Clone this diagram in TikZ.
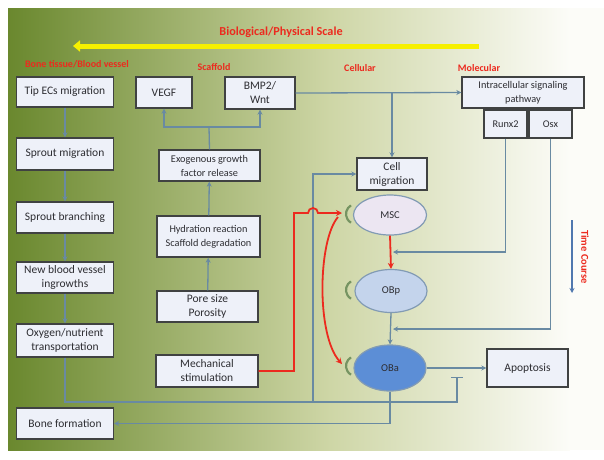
\documentclass[tikz,border=0pt]{standalone}
\usepackage{fontspec}
\setmainfont{Carlito}
\usetikzlibrary{arrows.meta,shapes.geometric}
\definecolor{bgA}{RGB}{106,136,46}
\definecolor{bgB}{RGB}{206,214,166}
\definecolor{bgC}{RGB}{252,252,248}
\definecolor{boxfill}{RGB}{238,241,249}
\definecolor{boxline}{RGB}{64,66,66}
\definecolor{txt}{RGB}{45,45,50}
\definecolor{lnk}{RGB}{105,138,162}
\definecolor{redl}{RGB}{236,42,30}
\definecolor{yel}{RGB}{246,240,0}
\definecolor{selfc}{RGB}{118,148,98}
\definecolor{mscfill}{RGB}{236,230,242}
\definecolor{obpfill}{RGB}{196,212,236}
\definecolor{obafill}{RGB}{92,142,214}
\definecolor{elline}{RGB}{130,155,180}
\definecolor{tcblue}{RGB}{80,120,175}
\begin{document}
\begin{tikzpicture}[x=1pt,y=-1pt,
  box/.style={draw=boxline, fill=boxfill, line width=1.4pt, text=txt, align=center, inner sep=1pt},
  bigtxt/.style={font=\fontsize{11.5}{14}\selectfont},
  smtxt/.style={font=\fontsize{10.3}{14}\selectfont},
  conn/.style={draw=lnk, line width=1.3pt},
  arr/.style={conn, -{Stealth[length=5pt,width=5pt]}},
  redarr/.style={draw=redl, line width=1.8pt, -{Stealth[length=6pt,width=6pt]}},
  cat/.style={text=redl, font=\bfseries\fontsize{10}{11}\selectfont},
  cell/.style={ellipse, draw=elline, line width=1.2pt, text=txt, font=\fontsize{10.5}{12}\selectfont, inner sep=0pt},
  selfloop/.style={draw=selfc, line width=2.2pt}
]
\useasboundingbox (0,0) rectangle (604,459);
% background
\shade[left color=bgA, right color=bgB] (8,8) rectangle (330,450);
\shade[left color=bgB, right color=bgC] (330,8) rectangle (570,450);
\fill[bgC] (570,8) rectangle (604,450);

% title and scale arrow
\node[text=redl, font=\bfseries\fontsize{12.2}{14}\selectfont] (title) at (281,32) {Biological/Physical Scale};
\coordinate (ya) at (479,46);
\coordinate (yb) at (73,46);
\draw[draw=yel, line width=5pt, -{Triangle[length=7pt,width=11pt]}] (ya) -- (yb);

% category labels
\node[cat] (c1) at (77,64) {Bone tissue/Blood vessel};
\node[cat] (c2) at (214,67) {Scaffold};
\node[cat] (c3) at (360,68) {Cellular};
\node[cat] (c4) at (479,68) {Molecular};

% left column
\node[box, bigtxt, minimum width=97pt, minimum height=30pt] (tip) at (65,92) {Tip ECs migration};
\node[box, bigtxt, minimum width=97pt, minimum height=32pt] (sprmig) at (65,154) {Sprout migration};
\node[box, bigtxt, minimum width=97pt, minimum height=31pt] (sprbr) at (65,217.5) {Sprout branching};
\node[box, bigtxt, minimum width=97pt, minimum height=31pt] (newbv) at (65,277.5) {New blood vessel\\ingrowths};
\node[box, bigtxt, minimum width=97pt, minimum height=33pt] (oxy) at (65,340.5) {Oxygen/nutrient\\transportation};
\node[box, bigtxt, minimum width=97pt, minimum height=31pt] (bone) at (65,423.5) {Bone formation};

% scaffold column
\node[box, bigtxt, minimum width=56pt, minimum height=31pt] (vegf) at (164,92.5) {VEGF};
\node[box, bigtxt, minimum width=70pt, minimum height=32pt] (bmp) at (260,93) {BMP2/\\Wnt};
\node[box, smtxt, minimum width=101pt, minimum height=31pt] (exo) at (209.5,165.5) {Exogenous growth\\factor release};
\node[box, smtxt, minimum width=103pt, minimum height=41pt] (hyd) at (208.5,236.5) {Hydration reaction\\Scaffold degradation};
\node[box, bigtxt, minimum width=101pt, minimum height=31pt] (pore) at (207.5,306.5) {Pore size\\Porosity};
\node[box, bigtxt, minimum width=102pt, minimum height=32pt] (mech) at (207,371) {Mechanical\\stimulation};

% cellular
\node[box, bigtxt, minimum width=70pt, minimum height=32pt] (cellmig) at (392,174) {Cell\\migration};
\node[cell, fill=mscfill, minimum width=73pt, minimum height=40pt] (msc) at (390,215) {MSC};
\node[cell, fill=obpfill, minimum width=72pt, minimum height=43pt] (obp) at (391,291) {OBp};
\node[cell, fill=obafill, minimum width=72pt, minimum height=46pt] (oba) at (390,368) {OBa};
\node[box, bigtxt, minimum width=81pt, minimum height=38pt] (apop) at (527.5,368) {Apoptosis};

% molecular
\node[box, smtxt, minimum width=122pt, minimum height=31pt] (intra) at (523,92.5) {Intracellular signaling\\pathway};
\node[box, smtxt, minimum width=43pt, minimum height=28pt] (runx) at (505.5,124) {Runx2};
\node[box, smtxt, minimum width=43pt, minimum height=28pt] (osx) at (550.5,124) {Osx};

% self-renewal loops
\draw[selfloop] (356,214) ++(120:10pt) arc[start angle=120,end angle=240,radius=10pt];
\draw[selfloop] (356,290) ++(120:10pt) arc[start angle=120,end angle=240,radius=10pt];
\draw[selfloop] (356,366) ++(120:10pt) arc[start angle=120,end angle=240,radius=10pt];

% left column connectors
\draw[arr] (tip) -- (sprmig);
\draw[arr] (sprmig) -- (sprbr);
\draw[arr] (sprbr) -- (newbv);
\draw[arr] (newbv) -- (oxy);

% oxygen line with inhibition
\coordinate (j1) at (313,402);
\coordinate (inh) at (457,377);
\draw[conn, -{Bar[width=12pt,line width=1.3pt]}] (oxy.south) |- (j1) -| (inh);
\draw[arr] (j1) |- (cellmig.west);

% scaffold connectors
\draw[arr] (pore) -- (hyd);
\draw[arr] (hyd) -- (exo);
\coordinate (fork) at (209,127);
\draw[conn] (exo.north) -- (fork);
\draw[arr] (fork) -| (vegf.south);
\draw[arr] (fork) -| (bmp.south);

% BMP2 to signaling and cell migration
\draw[arr] (bmp.east) -- (intra.west);
\draw[arr] (cellmig.north |- bmp.east) -- (cellmig.north);

% molecular to differentiation
\coordinate (t1) at (393,252);
\coordinate (t2) at (393,329);
\draw[arr] (runx.south) |- (t1);
\draw[arr] (osx.south) |- (t2);

% differentiation
\draw[redarr] (msc.south) -- (obp.north);
\draw[arr] (obp.south) -- (oba.north);
\draw[arr, line width=1.6pt] (oba.east) -- (apop.west);
\draw[arr] (oba.south) |- (bone.east);

% mechanical stimulation (red)
\coordinate (r1) at (294,213);
\coordinate (r2) at (342,213);
\coordinate (r3) at (338,217);
\coordinate (r4) at (342,364);
\draw[redarr] (mech.east) -| (r1) -- (308,213) arc[start angle=180,end angle=0,radius=5pt] -- (r2);
\draw[redarr] (r3) .. controls (318,240) and (316,335) .. (r4);

% time course
\coordinate (tc1) at (572,220);
\coordinate (tc2) at (572,293);
\draw[draw=tcblue, line width=1.3pt, -{Stealth[length=5pt,width=5pt]}] (tc1) -- (tc2);
\node[text=redl, font=\bfseries\fontsize{10.5}{12}\selectfont, rotate=-90] (tc) at (585,257) {Time Course};
\end{tikzpicture}
\end{document}
